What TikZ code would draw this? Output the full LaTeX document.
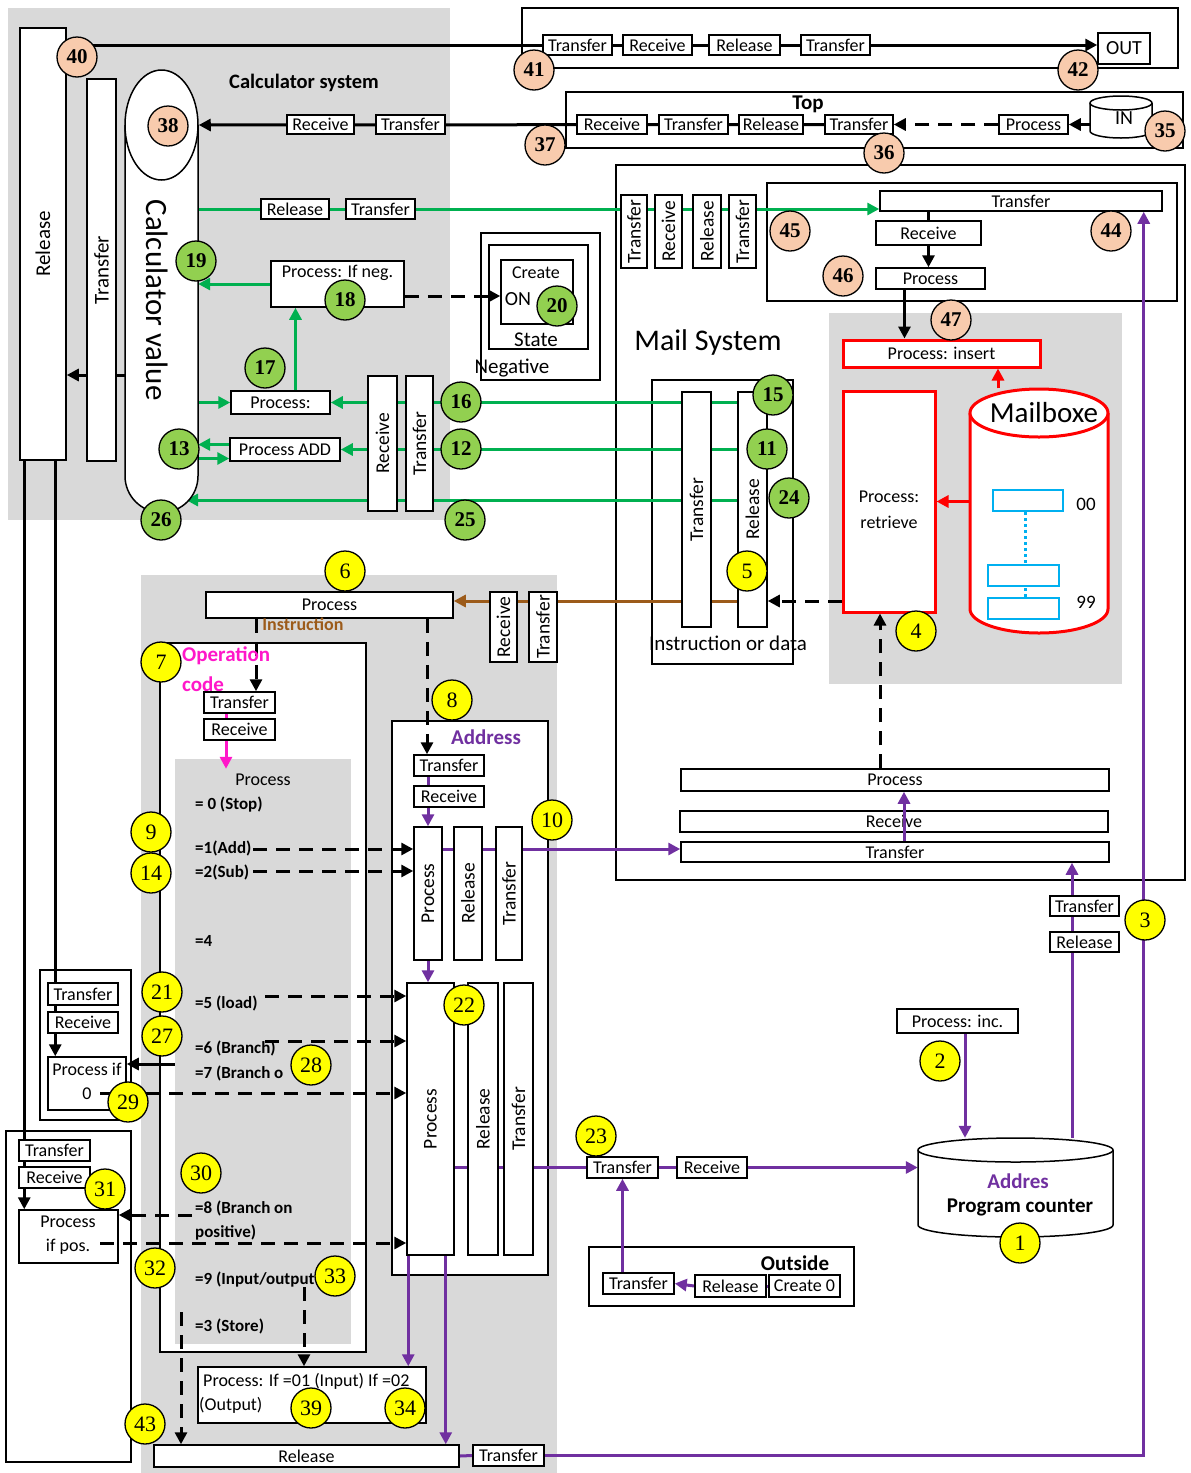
\documentclass[tikz,border=0pt]{standalone}
\usepackage{fontspec}
\setmainfont{Carlito}
\newfontfamily\numserif{Liberation Serif}
\usetikzlibrary{arrows.meta,calc,shapes.geometric}
\definecolor{bggray}{HTML}{D9D9D9}
\definecolor{gline}{HTML}{00B050}
\definecolor{lgreen}{HTML}{92D050}
\definecolor{peach}{HTML}{F8CBAD}
\definecolor{purp}{HTML}{7030A0}
\definecolor{brwn}{HTML}{9C5B1A}
\definecolor{magen}{HTML}{FF17C9}
\definecolor{cyanb}{HTML}{00B0F0}
\definecolor{ylw}{HTML}{FFFF00}
\pgfdeclarelayer{back}
\pgfdeclarelayer{wires}
\pgfsetlayers{back,wires,main}
\newcommand{\fb}{\fontsize{18}{21}\selectfont}
\newcommand{\fv}{\fontsize{19.5}{21}\selectfont}
% box given by its corners (x1,y1) (x2,y2)
\newcommand{\rbox}[7][]{%
  \pgfmathsetmacro\rbw{#5-#3}%
  \pgfmathsetmacro\rbh{#6-#4}%
  \node[bx,minimum width=\rbw pt,minimum height=\rbh pt,#1] (#2) at ({(#3+#5)/2},{(#4+#6)/2}) {#7};}
% upright box with its label turned by 90 degrees
\newcommand{\vrbox}[7][]{%
  \rbox[#1]{#2}{#3}{#4}{#5}{#6}{}%
  \node[rotate=90,font=\fv,inner sep=0pt] at (#2.center) {#7};}
% cylinder: x1, x2, y of top ellipse, y of bottom ellipse, half height of ellipses, style
\newcommand{\cyl}[6]{%
  \pgfmathsetmacro\cxm{(#1+#2)/2}%
  \pgfmathsetmacro\crx{(#2-#1)/2}%
  \fill[white] (#1,#3) rectangle (#2,#4);
  \fill[white] (\cxm,#4) ellipse[x radius=\crx,y radius=#5];
  \draw[#6] (#1,#3) -- (#1,#4) arc[start angle=180,end angle=0,x radius=\crx,y radius=#5] -- (#2,#3);
  \draw[#6,fill=white] (\cxm,#3) ellipse[x radius=\crx,y radius=#5];}
\begin{document}
\begin{tikzpicture}[x=1pt,y=-1pt,
  bx/.style={draw,fill=white,line width=1.5pt,inner sep=0pt,font=\fb},
  lbl/.style={inner sep=0pt,font=\fb},
  opt/.style={inner sep=0pt,anchor=west,font=\bfseries\fontsize{17}{19}\selectfont},
  arr/.style={-{Triangle[length=12pt,width=12pt]}},
  blk/.style={line width=3pt,black},
  dsh/.style={line width=3pt,black,dash pattern=on 14pt off 9pt},
  grnl/.style={line width=3pt,gline},
  purl/.style={line width=3pt,purp},
  brnl/.style={line width=3pt,brwn},
  magl/.style={line width=3pt,magen},
  redl/.style={line width=3pt,red},
  frame/.style={line width=1.5pt},
  dots/.style={cyanb,line width=3pt,dash pattern=on 3pt off 3pt},
  numbase/.style={circle,draw,line width=1.3pt,minimum size=40pt,inner sep=0pt},
  numy/.style={numbase,fill=ylw,font=\numserif\fontsize{22}{22}\selectfont},
  numg/.style={numbase,fill=lgreen,font=\numserif\bfseries\fontsize{21}{21}\selectfont},
  nump/.style={numbase,fill=peach,font=\numserif\bfseries\fontsize{21}{21}\selectfont}]
\useasboundingbox (0,0) rectangle (1191,1473);

% ---------- backgrounds and frames ----------
\begin{pgfonlayer}{back}
  \fill[bggray] (8,8) rectangle (450,520);
  \fill[bggray] (141,575) rectangle (557,1473);
  \fill[bggray] (829,313) rectangle (1122,684);
  \draw[frame] (522,8) rectangle (1178,68);
  \draw[frame] (566,92) rectangle (1183,148);
  \draw[frame] (616,165) rectangle (1185,880);
  \draw[frame] (767,183) rectangle (1177,301);
  \draw[frame] (652,380) rectangle (793,664);
  \draw[frame] (481,233) rectangle (600,380);
  \draw[frame] (489,245) rectangle (588,349);
  \draw[frame,fill=white] (160,643) rectangle (366,1352);
  \fill[bggray] (175,759) rectangle (351,1344);
  \draw[frame,fill=white] (392,721) rectangle (548,1275);
  \draw[frame] (40,970) rectangle (131,1120);
  \draw[frame] (6,1131) rectangle (131,1462);
  \draw[frame] (589,1247) rectangle (854,1306);
\end{pgfonlayer}

% ---------- calculator system ----------
\rbox{relL}{20}{28}{66}{460}{}
\node[rotate=90,inner sep=0pt,font=\fontsize{21}{22}\selectfont] at (relL.center) {Release};
\rbox{trL}{87}{79}{116}{461}{}
\node[rotate=90,inner sep=0pt,font=\fontsize{21}{22}\selectfont] at (trL.center) {Transfer};
\draw[frame,fill=white] (125,125) -- (125,476) arc[start angle=180,end angle=0,radius=36.5] -- (198,125);
\node[inner sep=0pt,minimum width=73pt,minimum height=387pt] (pill) at (161.5,318.5) {};
\node[ellipse,draw,line width=1.5pt,fill=white,inner sep=0pt,minimum width=73pt,minimum height=110pt] (cvell) at (161.5,125) {};
\node[rotate=-90,inner sep=0pt,font=\fontsize{31}{31}\selectfont] at (157,300) {Calculator value};
\node[inner sep=0pt,font=\bfseries\fontsize{20.5}{22}\selectfont] at (304,83) {Calculator system};
\rbox{rcv38}{287}{115}{354}{134}{Receive}
\rbox{trf38}{376}{115}{445}{134}{Transfer}
\rbox{grel}{261}{199}{329}{219}{Release}
\rbox{gtrf}{346}{199}{415}{219}{Transfer}
\rbox{pneg}{271}{261}{404}{307}{}
\node[lbl] at (337.5,273) {Process: If neg.};
\rbox{pcol}{231}{391}{330}{414}{Process:}
\rbox{padd}{230}{438}{340}{461}{Process ADD}
\vrbox{crcv}{368}{376}{397}{511}{Receive}
\vrbox{ctrf}{406}{376}{433}{511}{Transfer}

% negative state
\rbox{nin}{501}{260}{573}{324}{}
\node[lbl] at (536,273) {Create};
\node[lbl,font=\fontsize{20}{22}\selectfont] (on) at (518,299) {ON};
\node[lbl,font=\fontsize{21}{22}\selectfont] at (536,340) {State};
\node[lbl,font=\fontsize{21}{22}\selectfont] at (512,368) {Negative};

% ---------- output and top chains ----------
\rbox{o1}{543}{35}{612}{55}{Transfer}
\rbox{o2}{623}{35}{692}{55}{Receive}
\rbox{o3}{709}{35}{780}{55}{Release}
\rbox{o4}{801}{35}{870}{55}{Transfer}
\rbox[font=\fontsize{20}{22}\selectfont]{out}{1098}{33}{1150}{64}{OUT}
\rbox{t1}{577}{115}{647}{134}{Receive}
\rbox{t2}{659}{115}{728}{134}{Transfer}
\rbox{t3}{739}{115}{803}{134}{Release}
\rbox{t4}{825}{115}{893}{134}{Transfer}
\rbox{tproc}{999}{115}{1068}{134}{Process}
\node[lbl,font=\bfseries\fontsize{21}{22}\selectfont] at (808,104) {Top};
\cyl{1090}{1152}{103}{131}{7}{line width=1.5pt}
\node[inner sep=0pt,minimum width=62pt,minimum height=42pt] (incyl) at (1121,117) {};
\node[lbl,font=\fontsize{20}{22}\selectfont] at (1124,118) {IN};

% ---------- mail system ----------
\vrbox{mv1}{621}{195}{647}{268}{Transfer}
\vrbox{mv2}{655}{195}{682}{268}{Receive}
\vrbox{mv3}{693}{195}{721}{268}{Release}
\vrbox{mv4}{729}{195}{756}{268}{Transfer}
\rbox{m44}{880}{191}{1162}{211}{Transfer}
\rbox{m44r}{876}{221}{981}{245}{Receive}
\rbox{m44p}{876}{268}{985}{289}{Process}
\node[lbl,font=\fontsize{30}{32}\selectfont] at (708,342) {Mail System};
\rbox[draw=red,line width=3pt]{pins}{843}{340}{1040}{367}{Process: insert}
\rbox[draw=red,line width=3pt]{pret}{843}{391}{935}{612}{}
\node[lbl] at (889,497) {Process:};
\node[lbl] at (889,522) {retrieve};
\cyl{970}{1108}{413}{609}{24}{red,line width=3pt}
\node[inner sep=0pt,minimum width=138pt,minimum height=245pt] (mbox) at (1039,511) {};
\node[lbl,font=\fontsize{29}{30}\selectfont] at (1044,413) {Mailboxe};
\draw[cyanb,line width=1.5pt,fill=white] (993,490) rectangle (1063,511);
\draw[cyanb,line width=1.5pt,fill=white] (988,565) rectangle (1059,586);
\draw[cyanb,line width=1.5pt,fill=white] (988,598) rectangle (1059,619);
\draw[dots] (1025,512) -- (1025,565);
\draw[dots] (1025,588) -- (1025,597);
\node[lbl,font=\fontsize{19}{20}\selectfont] at (1086,504) {00};
\node[lbl,font=\fontsize{19}{20}\selectfont] at (1086,602) {99};
\vrbox{mtv}{682}{392}{711}{627}{Transfer}
\vrbox{mrel}{738}{392}{767}{627}{Release}
\node[lbl,font=\fontsize{21}{22}\selectfont] at (728,643) {Instruction or data};
\rbox{mpl}{681}{769}{1109}{791}{Process}
\rbox{mrl}{680}{811}{1108}{832}{Receive}
\rbox{mtl}{681}{842}{1109}{862}{Transfer}
\rbox{pctrf}{1050}{896}{1119}{916}{Transfer}
\rbox{pcrel}{1050}{932}{1119}{952}{Release}

% ---------- program counter and outside ----------
\cyl{918}{1113}{1150}{1225}{12}{line width=1.5pt}
\node[inner sep=0pt,minimum width=195pt,minimum height=99pt] (pc) at (1015.5,1187.5) {};
\node[lbl,font=\bfseries\fontsize{21}{22}\selectfont,text=purp] at (1018,1181) {Addres};
\node[lbl,font=\bfseries\fontsize{21}{22}\selectfont] at (1020,1207) {Program counter};
\rbox{pinc}{897}{1009}{1018}{1033}{Process: inc.}
\node[lbl,font=\bfseries\fontsize{21}{22}\selectfont] at (795,1263) {Outside};
\rbox{otrf2}{603}{1273}{674}{1294}{Transfer}
\rbox{orel}{695}{1275}{766}{1297}{Release}
\rbox{ocr}{769}{1275}{840}{1297}{Create 0}
\rbox{otrf}{587}{1157}{658}{1178}{Transfer}
\rbox{orcv}{677}{1157}{747}{1178}{Receive}

% ---------- instruction decoding ----------
\rbox{p6}{206}{592}{453}{618}{Process}
\vrbox{irc}{490}{592}{517}{662}{Receive}
\vrbox{itr}{529}{592}{557}{662}{Transfer}
\node[lbl,font=\bfseries\fontsize{18}{20}\selectfont,text=brwn] at (303,624) {Instruction};
\node[lbl,anchor=west,font=\bfseries\fontsize{21}{22}\selectfont,text=magen] at (182,656) {Operation};
\node[lbl,anchor=west,font=\bfseries\fontsize{21}{22}\selectfont,text=magen] at (182,684) {code};
\rbox{opT}{204}{692}{275}{713}{Transfer}
\rbox{opR}{204}{719}{275}{740}{Receive}
\node[lbl] at (263,780) {Process};
\node[opt] at (195,805) {= 0 (Stop)};
\node[opt] at (195,848) {=1(Add)};
\node[opt] at (195,872) {=2(Sub)};
\node[opt] at (195,941) {=4};
\node[opt] at (195,1003) {=5 (load)};
\node[opt] at (195,1048) {=6 (Branch)};
\node[opt] at (195,1073) {=7 (Branch o};
\node[opt] at (195,1208) {=8 (Branch on};
\node[opt] at (195,1233) {positive)};
\node[opt] at (195,1280) {=9 (Input/output};
\node[opt] at (195,1326) {=3 (Store)};
\node[lbl,font=\bfseries\fontsize{21}{22}\selectfont,text=purp] at (486,737) {Address};
\rbox{addT}{414}{755}{484}{776}{Transfer}
\rbox{addR}{414}{786}{484}{807}{Receive}
\vrbox{apv}{414}{827}{442}{960}{Process}
\vrbox{arv}{454}{827}{482}{960}{Release}
\vrbox{atv}{496}{827}{522}{960}{Transfer}
\vrbox{alp}{407}{983}{454}{1255}{Process}
\vrbox{alr}{468}{983}{498}{1255}{Release}
\vrbox{alt}{504}{983}{533}{1255}{Transfer}

% branch units
\rbox{p0trf}{48}{983}{118}{1005}{Transfer}
\rbox{p0rcv}{48}{1012}{118}{1033}{Receive}
\rbox{p0}{48}{1057}{126}{1110}{}
\node[lbl] at (87,1069) {Process if};
\node[lbl] at (87,1094) {0};
\rbox{pptrf}{19}{1140}{90}{1161}{Transfer}
\rbox{pprcv}{19}{1167}{90}{1188}{Receive}
\rbox{pp}{19}{1210}{118}{1263}{}
\node[lbl] at (68,1222) {Process};
\node[lbl] at (68,1247) {if pos.};
\rbox{pif}{198}{1367}{426}{1423}{}
\node[lbl,anchor=west] at (203,1381) {Process: If =01 (Input) If =02};
\node[lbl,anchor=west] at (199,1405) {(Output)};
\rbox{brel}{154}{1445}{459}{1467}{Release}
\rbox{btrf}{473}{1445}{544}{1466}{Transfer}

% ---------- connectors under the boxes ----------
\begin{pgfonlayer}{wires}
  \draw[blk,arr] (relL.north east |- o1.west) -- (out.west |- o1.west);
  \draw[blk,arr] (t4.west) -- (cvell.east);
  \draw[dsh,arr] (tproc.west) -- (t4.east);
  \draw[blk,arr] (incyl.west |- tproc.east) -- (tproc.east);
  % green calculator links
  \draw[grnl,arr] (pill.east |- grel.center) -- (m44.west |- grel.center);
  \draw[grnl,arr] (pneg.west) -- (pill.east |- pneg.west);
  \coordinate (gu) at ([xshift=15pt]pcol.north);
  \draw[grnl,arr] (gu) -- (gu |- pneg.south);
  \draw[grnl,arr] (pill.east |- pcol.west) -- (pcol.west);
  \draw[grnl,arr] (mrel.west |- pcol.east) -- (pcol.east);
  \draw[grnl,arr] (mrel.west |- padd.east) -- (padd.east);
  \coordinate (ga) at ($(padd.west)+(0,-5)$);
  \coordinate (gb) at ($(padd.west)+(0,9)$);
  \draw[grnl,arr] (ga) -- (pill.east |- ga);
  \draw[grnl,arr] (pill.east |- gb) -- (gb);
  \coordinate (cvb) at (186,500);
  \draw[grnl,arr] (mrel.west |- cvb) -- (cvb);
  \coordinate (yn) at (0,296);
  \draw[dsh,arr] (pneg.east |- yn) -- (nin.west |- yn);
  \coordinate (cva) at (130,375);
  \draw[blk,arr] (cva) -- (relL.east |- cva);
  % release columns feeding the branch units
  \coordinate (rl1) at ($(relL.south west)+(5,0)$);
  \coordinate (rl2) at ($(relL.south west)+(36,0)$);
  \draw[blk,arr] (rl1) -- (rl1 |- pp.north);
  \draw[blk,arr] (rl2) -- (rl2 |- p0.north);
  % instruction split
  \coordinate (yb) at (0,601);
  \draw[brnl,arr] (mrel.west |- yb) -- (p6.east |- yb);
  \draw[dsh,arr] (pret.west |- yb) -- (mrel.east |- yb);
  \coordinate (rb) at ([xshift=-9pt]pret.south);
  \draw[dsh,arr] (rb |- mpl.north) -- (rb);
  \coordinate (ia) at ([xshift=16.5pt]opT.north);
  \draw[dsh,arr] (ia |- p6.south) -- (ia);
  \coordinate (ib) at ([xshift=-22pt]addT.north);
  \draw[dsh,arr] (ib |- p6.south) -- (ib);
  \coordinate (mg) at ([xshift=-13.5pt]opR.south);
  \draw[magl] (mg |- opT.south) -- (mg |- opR.north);
  \draw[magl,arr] (mg) -- ++(0,28);
  % address path
  \coordinate (pa) at ([xshift=-21pt]addR.south);
  \draw[purl] (pa |- addT.south) -- (pa |- addR.north);
  \draw[purl,arr] (pa) -- (pa |- apv.north);
  \draw[purl,arr] (apv.south) -- (apv.south |- alp.north);
  \coordinate (pb) at (0,849);
  \draw[purl,arr] (apv.east |- pb) -- (mtl.west |- pb);
  \coordinate (pc1) at ([xshift=56.5pt]pc.north);
  \draw[purl,arr] (pc1) -- (pc1 |- mtl.south);
  \coordinate (pc2) at ([xshift=7.5pt]pinc.south);
  \draw[purl,arr] (pc2) -- (pc2 |- pc.north);
  \coordinate (pd) at ([xshift=-19pt]m44.south east);
  \draw[purl,arr] (btrf.east) -| (pd);
  \draw[purl] (brel.east) -- (btrf.west);
  \draw[purl,arr] (alp.east |- otrf.west) -- (pc.west |- otrf.west);
  \draw[purl,arr] (otrf.south |- otrf2.north) -- (otrf.south);
  \draw[purl,arr] (orel.west) -- (otrf2.east);
  \draw[purl] (orel.east) -- (ocr.west);
  \coordinate (pe) at ($(alp.south west)+(2,0)$);
  \draw[purl,arr] (pe) -- (pe |- pif.north);
  \coordinate (pf) at ($(alp.south east)+(-9,0)$);
  \draw[purl,arr] (pf) -- (pf |- brel.north);
  % mail box internals
  \draw[blk] (m44r.north |- m44.south) -- (m44r.north);
  \draw[blk,arr] (m44r.south) -- (m44r.south |- m44p.north);
  \coordinate (ma) at ([xshift=-26pt]m44p.south);
  \draw[blk,arr] (ma) -- (ma |- pins.north);
  \coordinate (mba) at ([xshift=-41pt]mbox.north);
  \draw[redl,arr] (mba) -- (mba |- pins.south);
  \draw[redl,arr] (mbox.west |- pret.east) -- (pret.east);
\end{pgfonlayer}

% ---------- connectors drawn over the boxes ----------
\coordinate (ms) at ([xshift=9pt]mtl.north);
\draw[purl,arr] (ms) -- (ms |- mpl.south);
\coordinate (d1) at (253,849);
\coordinate (d2) at (253,871);
\coordinate (d5) at (265,996);
\coordinate (d6) at (265,1041);
\coordinate (d7) at (175,1064);
\coordinate (dz) at (100,1093);
\coordinate (d8) at (192,1215);
\coordinate (dq) at (100,1243);
\coordinate (d9) at (304,1287);
\coordinate (d3) at (181,1312);
\draw[dsh,arr] (d1) -- (apv.west |- d1);
\draw[dsh,arr] (d2) -- (apv.west |- d2);
\draw[dsh,arr] (d5) -- (alp.west |- d5);
\draw[dsh,arr] (d6) -- (alp.west |- d6);
\draw[blk,arr] (d7) -- (p0.east |- d7);
\draw[dsh,arr] (dz) -- (alp.west |- dz);
\draw[dsh,arr] (d8) -- (pp.east |- d8);
\draw[dsh,arr] (dq) -- (alp.west |- dq);
\draw[dsh,arr] (d9) -- (d9 |- pif.north);
\draw[dsh,arr] (d3) -- (d3 |- brel.north);

% ---------- step numbers ----------
\foreach \n/\x/\y in {1/1020/1243,2/940/1061,3/1145/920,4/916/631,5/747/571,6/345/571,
  7/161/662,8/452/700,9/151/832,10/552/820,14/151/873,21/162/992,22/464/1005,23/596/1136,
  27/162/1036,28/311/1065,29/128/1102,30/201/1173,31/105/1189,32/155/1268,33/335/1276,
  34/405/1408,39/311/1408,43/145/1424}
  \node[numy] (n\n) at (\x,\y) {\n};
\foreach \n/\x/\y in {11/767/449,12/461/449,13/179/449,15/773/395,16/461/402,17/265/368,
  18/345/300,19/196/261,20/557/306,24/789/498,25/465/520,26/161/520}
  \node[numg] (n\n) at (\x,\y) {\n};
\foreach \n/\x/\y in {35/1165/131,36/884/153,37/545/145,38/168/126,40/77/57,41/534/70,
  42/1078/70,44/1111/231,45/790/231,46/843/276,47/951/320}
  \node[nump] (n\n) at (\x,\y) {\n};
\end{tikzpicture}
\end{document}
